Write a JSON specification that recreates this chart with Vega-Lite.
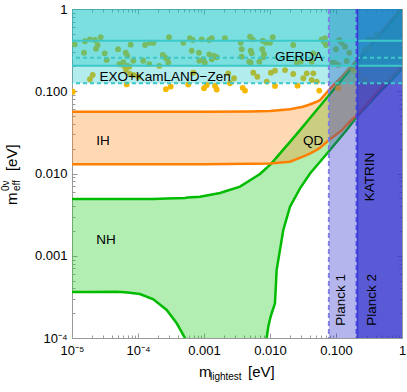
{
  "$schema": "https://vega.github.io/schema/vega-lite/v6.json",
  "width": 330,
  "height": 329,
  "autosize": {"type": "none"},
  "padding": {"left": 72, "top": 9, "right": 5, "bottom": 54},
  "background": "white",
  "config": {
    "view": {"stroke": null},
    "axis": {"grid": false, "title": null, "domainColor": "#999999", "tickColor": "#999999", "labelFont": "Liberation Sans", "labelFontSize": 13, "labelColor": "black", "zindex": 1, "labelOverlap": false, "labelBound": false},
    "text": {"font": "Liberation Sans", "color": "black"}
  },
  "resolve": {"axis": {"x": "independent", "y": "independent"}},
  "datasets": {
    "nh": [
      {"m": 0.00001, "lo": 0.000362, "hi": 0.0049},
      {"m": 0.00002, "lo": 0.000363, "hi": 0.0049},
      {"m": 0.0000475, "lo": 0.000365, "hi": 0.0049},
      {"m": 0.00007, "lo": 0.000357, "hi": 0.0049},
      {"m": 0.000107, "lo": 0.000343, "hi": 0.0049},
      {"m": 0.000171, "lo": 0.000295, "hi": 0.0049},
      {"m": 0.000272, "lo": 0.000219, "hi": 0.00495},
      {"m": 0.000386, "lo": 0.000151, "hi": 0.005},
      {"m": 0.000515, "lo": 0.0001, "hi": 0.00505},
      {"m": 0.00056, "lo": 0.000001, "hi": 0.0051},
      {"m": 0.000869, "lo": 0.000001, "hi": 0.00522},
      {"m": 0.00175, "lo": 0.000001, "hi": 0.00579},
      {"m": 0.00351, "lo": 0.000001, "hi": 0.00692},
      {"m": 0.0055, "lo": 0.000001, "hi": 0.0087},
      {"m": 0.00705, "lo": 0.000001, "hi": 0.00986},
      {"m": 0.0087, "lo": 0.000001, "hi": 0.0115},
      {"m": 0.0089, "lo": 0.0001, "hi": 0.0117},
      {"m": 0.00942, "lo": 0.000137, "hi": 0.0122},
      {"m": 0.01, "lo": 0.00017, "hi": 0.0127},
      {"m": 0.0106, "lo": 0.0002, "hi": 0.0134},
      {"m": 0.0119, "lo": 0.000264, "hi": 0.0149},
      {"m": 0.0126, "lo": 0.00067, "hi": 0.0157},
      {"m": 0.0159, "lo": 0.00206, "hi": 0.0195},
      {"m": 0.0201, "lo": 0.00395, "hi": 0.0242},
      {"m": 0.0285, "lo": 0.00661, "hi": 0.0337},
      {"m": 0.0404, "lo": 0.01, "hi": 0.0472},
      {"m": 0.0573, "lo": 0.0139, "hi": 0.0662},
      {"m": 0.081, "lo": 0.0193, "hi": 0.0925},
      {"m": 0.145, "lo": 0.0338, "hi": 0.162},
      {"m": 0.218, "lo": 0.0514, "hi": 0.238},
      {"m": 0.5, "lo": 0.105, "hi": 0.521},
      {"m": 1, "lo": 0.185, "hi": 1.0}
    ],
    "ih": [
      {"m": 0.00001, "lo": 0.013, "hi": 0.0564},
      {"m": 0.0001, "lo": 0.013, "hi": 0.0564},
      {"m": 0.001, "lo": 0.013, "hi": 0.0565},
      {"m": 0.005, "lo": 0.0131, "hi": 0.0568},
      {"m": 0.01, "lo": 0.0132, "hi": 0.0575},
      {"m": 0.02, "lo": 0.0139, "hi": 0.0605},
      {"m": 0.0316, "lo": 0.016, "hi": 0.0649},
      {"m": 0.04, "lo": 0.0175, "hi": 0.069},
      {"m": 0.051, "lo": 0.0193, "hi": 0.0745},
      {"m": 0.0573, "lo": 0.0205, "hi": 0.0783},
      {"m": 0.081, "lo": 0.0261, "hi": 0.107},
      {"m": 0.12, "lo": 0.033, "hi": 0.148},
      {"m": 0.163, "lo": 0.043, "hi": 0.195},
      {"m": 0.218, "lo": 0.053, "hi": 0.25},
      {"m": 0.5, "lo": 0.115, "hi": 0.54},
      {"m": 1, "lo": 0.2, "hi": 1.05}
    ],
    "dots": [
      {"m": 0.000011, "e": 0.372}, {"m": 0.0000157, "e": 0.405}, {"m": 0.0000187, "e": 0.428}, {"m": 0.0000223, "e": 0.42},
      {"m": 0.0000272, "e": 0.453}, {"m": 0.0000245, "e": 0.365}, {"m": 0.0000231, "e": 0.329}, {"m": 0.0000152, "e": 0.294},
      {"m": 0.0000313, "e": 0.289}, {"m": 0.0000498, "e": 0.324}, {"m": 0.0000775, "e": 0.368}, {"m": 0.000128, "e": 0.365},
      {"m": 0.000152, "e": 0.389}, {"m": 0.0000652, "e": 0.294}, {"m": 0.0000689, "e": 0.268}, {"m": 0.0000335, "e": 0.24},
      {"m": 0.0000521, "e": 0.213}, {"m": 0.0000599, "e": 0.225}, {"m": 0.0000614, "e": 0.203}, {"m": 0.0000689, "e": 0.203},
      {"m": 0.0000658, "e": 0.181}, {"m": 0.0000738, "e": 0.199}, {"m": 0.0000849, "e": 0.235}, {"m": 0.00012, "e": 0.235},
      {"m": 0.000148, "e": 0.214}, {"m": 0.0000206, "e": 0.158}, {"m": 0.0000187, "e": 0.14}, {"m": 0.0000757, "e": 0.162},
      {"m": 0.0000849, "e": 0.158}, {"m": 0.000101, "e": 0.15}, {"m": 0.000295, "e": 0.453}, {"m": 0.000486, "e": 0.389},
      {"m": 0.000614, "e": 0.441}, {"m": 0.000674, "e": 0.42}, {"m": 0.000923, "e": 0.428}, {"m": 0.0012, "e": 0.42},
      {"m": 0.00131, "e": 0.441}, {"m": 0.00208, "e": 0.441}, {"m": 0.000171, "e": 0.389}, {"m": 0.000651, "e": 0.311},
      {"m": 0.00084, "e": 0.294}, {"m": 0.0012, "e": 0.281}, {"m": 0.00142, "e": 0.268}, {"m": 0.00156, "e": 0.259},
      {"m": 0.000237, "e": 0.276}, {"m": 0.000256, "e": 0.259}, {"m": 0.000278, "e": 0.245}, {"m": 0.000288, "e": 0.222},
      {"m": 0.000849, "e": 0.235}, {"m": 0.000976, "e": 0.245}, {"m": 0.00103, "e": 0.222}, {"m": 0.00131, "e": 0.245},
      {"m": 0.00021, "e": 0.203}, {"m": 0.000689, "e": 0.168}, {"m": 0.00233, "e": 0.165}, {"m": 0.00248, "e": 0.125},
      {"m": 0.00498, "e": 0.461}, {"m": 0.00547, "e": 0.428}, {"m": 0.00775, "e": 0.412}, {"m": 0.00869, "e": 0.389},
      {"m": 0.01, "e": 0.389}, {"m": 0.011, "e": 0.453}, {"m": 0.0225, "e": 0.365}, {"m": 0.0036, "e": 0.389},
      {"m": 0.00372, "e": 0.324}, {"m": 0.0051, "e": 0.311}, {"m": 0.00528, "e": 0.289}, {"m": 0.00764, "e": 0.324},
      {"m": 0.00372, "e": 0.263}, {"m": 0.00485, "e": 0.229}, {"m": 0.0051, "e": 0.222}, {"m": 0.00689, "e": 0.229},
      {"m": 0.00791, "e": 0.259}, {"m": 0.00811, "e": 0.284}, {"m": 0.00558, "e": 0.168}, {"m": 0.00643, "e": 0.15},
      {"m": 0.0103, "e": 0.168}, {"m": 0.0119, "e": 0.178}, {"m": 0.0225, "e": 0.162}, {"m": 0.036, "e": 0.165},
      {"m": 0.032, "e": 0.144}, {"m": 0.0428, "e": 0.137}, {"m": 0.00891, "e": 0.131}, {"m": 0.00285, "e": 0.144},
      {"m": 0.0254, "e": 0.222}, {"m": 0.0292, "e": 0.229}, {"m": 0.0428, "e": 0.229}, {"m": 0.0453, "e": 0.289},
      {"m": 0.0607, "e": 0.428}, {"m": 0.0681, "e": 0.441}, {"m": 0.0658, "e": 0.4}, {"m": 0.0705, "e": 0.365},
      {"m": 0.112, "e": 0.42}, {"m": 0.122, "e": 0.389}, {"m": 0.1, "e": 0.324}, {"m": 0.137, "e": 0.348},
      {"m": 0.159, "e": 0.294}, {"m": 0.0891, "e": 0.222}, {"m": 0.0966, "e": 0.219}, {"m": 0.108, "e": 0.209},
      {"m": 0.145, "e": 0.233}, {"m": 0.308, "e": 0.428}, {"m": 0.347, "e": 0.428}, {"m": 0.404, "e": 0.42},
      {"m": 0.275, "e": 0.318}, {"m": 0.312, "e": 0.338}, {"m": 0.275, "e": 0.137}, {"m": 0.0169, "e": 0.181},
      {"m": 0.0453, "e": 0.165}, {"m": 0.0511, "e": 0.131}, {"m": 0.181, "e": 0.181}, {"m": 0.216, "e": 0.162},
      {"m": 0.414, "e": 0.483},
      {"m": 0.0000103, "e": 0.0988}, {"m": 0.0000674, "e": 0.121}, {"m": 0.000265, "e": 0.106}, {"m": 0.000313, "e": 0.114},
      {"m": 0.000578, "e": 0.121}, {"m": 0.001, "e": 0.109}, {"m": 0.0011, "e": 0.119}, {"m": 0.00147, "e": 0.116},
      {"m": 0.00156, "e": 0.105}, {"m": 0.00386, "e": 0.11}, {"m": 0.00418, "e": 0.102}, {"m": 0.0119, "e": 0.116},
      {"m": 0.0261, "e": 0.117}, {"m": 0.0558, "e": 0.102}, {"m": 0.108, "e": 0.109}
    ],
    "labels": [
      {"t": "GERDA", "m": 0.0275, "e": 0.261},
      {"t": "EXO+KamLAND\u2212Zen", "m": 0.000257, "e": 0.149},
      {"t": "IH", "m": 0.0000295, "e": 0.0248},
      {"t": "NH", "m": 0.0000327, "e": 0.00155},
      {"t": "QD", "m": 0.0449, "e": 0.0248}
    ],
    "vlabels": [
      {"t": "KATRIN", "m": 0.327, "e": 0.00906},
      {"t": "Planck 1", "m": 0.119, "e": 0.00029},
      {"t": "Planck 2", "m": 0.351, "e": 0.00029}
    ]
  },
  "layer": [
    {
      "data": {"name": "nh"},
      "mark": {"type": "area", "color": "#22cc22", "opacity": 0.35, "clip": true},
      "encoding": {
        "x": {"field": "m", "type": "quantitative", "scale": {"type": "log", "domain": [0.00001, 1], "nice": false},
          "axis": {"orient": "bottom", "values": [0.00001, 0.0001, 0.001, 0.01, 0.1, 1], "tickSize": -5, "labelPadding": 11, "labelFlush": false,
            "labelExpr": "datum.value < 5e-5 ? '10\u207b\u2075' : datum.value < 5e-4 ? '10\u207b\u2074' : datum.value < 5e-3 ? '0.001' : datum.value < 0.05 ? '0.010' : datum.value < 0.5 ? '0.100' : '1'"}},
        "y": {"field": "lo", "type": "quantitative", "scale": {"type": "log", "domain": [0.0001, 1], "nice": false},
          "axis": {"orient": "left", "values": [0.0001, 0.001, 0.01, 0.1, 1], "tickSize": -5, "labelPadding": 10,
            "labelExpr": "datum.value < 5e-4 ? '10\u207b\u2074' : datum.value < 5e-3 ? '0.001' : datum.value < 0.05 ? '0.010' : datum.value < 0.5 ? '0.100' : '1'"}},
        "y2": {"field": "hi"}
      }
    },
    {
      "data": {"name": "ih"},
      "mark": {"type": "area", "color": "#ff8c1a", "opacity": 0.33, "clip": true},
      "encoding": {
        "x": {"field": "m", "type": "quantitative",
          "axis": {"orient": "bottom", "labels": false, "domain": false, "tickSize": -3,
            "values": [0.00002, 0.00003, 0.00004, 0.00005, 0.00006, 0.00007, 0.00008, 0.00009, 0.0002, 0.0003, 0.0004, 0.0005, 0.0006, 0.0007, 0.0008, 0.0009, 0.002, 0.003, 0.004, 0.005, 0.006, 0.007, 0.008, 0.009, 0.02, 0.03, 0.04, 0.05, 0.06, 0.07, 0.08, 0.09, 0.2, 0.3, 0.4, 0.5, 0.6, 0.7, 0.8, 0.9]}},
        "y": {"field": "lo", "type": "quantitative",
          "axis": {"orient": "left", "labels": false, "domain": false, "tickSize": -3,
            "values": [0.0002, 0.0003, 0.0004, 0.0005, 0.0006, 0.0007, 0.0008, 0.0009, 0.002, 0.003, 0.004, 0.005, 0.006, 0.007, 0.008, 0.009, 0.02, 0.03, 0.04, 0.05, 0.06, 0.07, 0.08, 0.09, 0.2, 0.3, 0.4, 0.5, 0.6, 0.7, 0.8, 0.9]}},
        "y2": {"field": "hi"}
      }
    },
    {
      "data": {"name": "nh"},
      "mark": {"type": "line", "color": "#00bb00", "strokeWidth": 2.5, "clip": true},
      "encoding": {"x": {"field": "m", "type": "quantitative", "axis": null}, "y": {"field": "lo", "type": "quantitative", "axis": null}}
    },
    {
      "data": {"name": "nh"},
      "mark": {"type": "line", "color": "#00bb00", "strokeWidth": 2.5, "clip": true},
      "encoding": {
        "x": {"field": "m", "type": "quantitative",
          "axis": {"orient": "top", "labels": false, "domain": false, "tickSize": -3,
            "values": [0.00002, 0.00003, 0.00004, 0.00005, 0.00006, 0.00007, 0.00008, 0.00009, 0.0002, 0.0003, 0.0004, 0.0005, 0.0006, 0.0007, 0.0008, 0.0009, 0.002, 0.003, 0.004, 0.005, 0.006, 0.007, 0.008, 0.009, 0.02, 0.03, 0.04, 0.05, 0.06, 0.07, 0.08, 0.09, 0.2, 0.3, 0.4, 0.5, 0.6, 0.7, 0.8, 0.9]}},
        "y": {"field": "hi", "type": "quantitative",
          "axis": {"orient": "right", "labels": false, "domain": false, "tickSize": -3,
            "values": [0.0002, 0.0003, 0.0004, 0.0005, 0.0006, 0.0007, 0.0008, 0.0009, 0.002, 0.003, 0.004, 0.005, 0.006, 0.007, 0.008, 0.009, 0.02, 0.03, 0.04, 0.05, 0.06, 0.07, 0.08, 0.09, 0.2, 0.3, 0.4, 0.5, 0.6, 0.7, 0.8, 0.9]}}
      }
    },
    {
      "data": {"name": "ih"},
      "mark": {"type": "line", "color": "#ff7f00", "strokeWidth": 2.5, "clip": true},
      "encoding": {"x": {"field": "m", "type": "quantitative", "axis": null}, "y": {"field": "lo", "type": "quantitative", "axis": null}}
    },
    {
      "data": {"name": "ih"},
      "mark": {"type": "line", "color": "#ff7f00", "strokeWidth": 2.5, "clip": true},
      "encoding": {"x": {"field": "m", "type": "quantitative", "axis": null}, "y": {"field": "hi", "type": "quantitative", "axis": null}}
    },
    {
      "data": {"name": "dots"},
      "mark": {"type": "circle", "color": "#f5b800", "opacity": 1, "size": 34, "clip": true},
      "encoding": {
        "x": {"field": "m", "type": "quantitative",
          "axis": {"orient": "top", "labels": false, "tickSize": -5, "values": [0.00001, 0.0001, 0.001, 0.01, 0.1, 1]}},
        "y": {"field": "e", "type": "quantitative",
          "axis": {"orient": "right", "labels": false, "tickSize": -5, "values": [0.0001, 0.001, 0.01, 0.1, 1]}}
      }
    },
    {
      "data": {"values": [{"lo": 0.078}]},
      "mark": {"type": "rect", "color": "#3333cc", "opacity": 0.36, "clip": true},
      "encoding": {"x": {"field": "lo", "type": "quantitative", "axis": null}, "x2": {"datum": 1}}
    },
    {
      "data": {"values": [{"lo": 0.205}]},
      "mark": {"type": "rect", "color": "#3333cc", "opacity": 0.7, "clip": true},
      "encoding": {"x": {"field": "lo", "type": "quantitative", "axis": null}, "x2": {"datum": 1}}
    },
    {
      "data": {"values": [{"lo": 0.125}, {"lo": 0.204}]},
      "mark": {"type": "rect", "color": "#00c0c0", "opacity": 0.3, "clip": true},
      "encoding": {"y": {"field": "lo", "type": "quantitative", "axis": null}, "y2": {"datum": 1}}
    },
    {
      "data": {"values": [{"v": 0.41}, {"v": 0.204}]},
      "mark": {"type": "rule", "color": "#3cc8c8", "strokeWidth": 2},
      "encoding": {"y": {"field": "v", "type": "quantitative", "axis": null}}
    },
    {
      "data": {"values": [{"v": 0.255}, {"v": 0.125}]},
      "mark": {"type": "rule", "color": "#3cc8c8", "strokeWidth": 2, "strokeDash": [4, 3]},
      "encoding": {"y": {"field": "v", "type": "quantitative", "axis": null}}
    },
    {
      "data": {"values": [{"v": 0.078}]},
      "mark": {"type": "rule", "color": "#7f7fe6", "strokeWidth": 2, "strokeDash": [5, 3]},
      "encoding": {"x": {"field": "v", "type": "quantitative", "axis": null}}
    },
    {
      "data": {"values": [{"v": 0.205}]},
      "mark": {"type": "rule", "color": "#4a4ae0", "strokeWidth": 2, "strokeDash": [5, 3]},
      "encoding": {"x": {"field": "v", "type": "quantitative", "axis": null}}
    },
    {
      "data": {"values": [{"v": 0.213}]},
      "mark": {"type": "rule", "color": "#3a3ad8", "strokeWidth": 1.2},
      "encoding": {"x": {"field": "v", "type": "quantitative", "axis": null}}
    },
    {
      "data": {"name": "labels"},
      "mark": {"type": "text", "fontSize": 13.5, "align": "center", "baseline": "middle"},
      "encoding": {
        "x": {"field": "m", "type": "quantitative", "axis": null},
        "y": {"field": "e", "type": "quantitative", "axis": null},
        "text": {"field": "t"}
      }
    },
    {
      "data": {"name": "vlabels"},
      "mark": {"type": "text", "fontSize": 13.5, "align": "center", "baseline": "middle", "angle": 270},
      "encoding": {
        "x": {"field": "m", "type": "quantitative", "axis": null},
        "y": {"field": "e", "type": "quantitative", "axis": null},
        "text": {"field": "t"}
      }
    },
    {
      "data": {"values": [{"t": "m"}]},
      "mark": {"type": "text", "fontSize": 15, "align": "left", "baseline": "alphabetic"},
      "encoding": {"x": {"datum": 0.00084, "type": "quantitative", "axis": null}, "y": {"datum": 0.0000336, "type": "quantitative", "axis": null}, "text": {"field": "t"}}
    },
    {
      "data": {"values": [{"t": "lightest"}]},
      "mark": {"type": "text", "fontSize": 10, "align": "left", "baseline": "alphabetic"},
      "encoding": {"x": {"datum": 0.00123, "type": "quantitative", "axis": null}, "y": {"datum": 0.0000308, "type": "quantitative", "axis": null}, "text": {"field": "t"}}
    },
    {
      "data": {"values": [{"t": "[eV]"}]},
      "mark": {"type": "text", "fontSize": 15, "align": "left", "baseline": "alphabetic"},
      "encoding": {"x": {"datum": 0.00464, "type": "quantitative", "axis": null}, "y": {"datum": 0.0000336, "type": "quantitative", "axis": null}, "text": {"field": "t"}}
    },
    {
      "data": {"values": [{"t": "m"}]},
      "mark": {"type": "text", "fontSize": 15, "align": "left", "baseline": "alphabetic", "angle": 270},
      "encoding": {"x": {"datum": 0.00000147, "type": "quantitative", "axis": null}, "y": {"datum": 0.00414, "type": "quantitative", "axis": null}, "text": {"field": "t"}}
    },
    {
      "data": {"values": [{"t": "eff"}]},
      "mark": {"type": "text", "fontSize": 10, "align": "left", "baseline": "alphabetic", "angle": 270},
      "encoding": {"x": {"datum": 0.00000163, "type": "quantitative", "axis": null}, "y": {"datum": 0.00612, "type": "quantitative", "axis": null}, "text": {"field": "t"}}
    },
    {
      "data": {"values": [{"t": "0\u03bd"}]},
      "mark": {"type": "text", "fontSize": 10, "align": "left", "baseline": "alphabetic", "angle": 270},
      "encoding": {"x": {"datum": 0.00000111, "type": "quantitative", "axis": null}, "y": {"datum": 0.00612, "type": "quantitative", "axis": null}, "text": {"field": "t"}}
    },
    {
      "data": {"values": [{"t": "[eV]"}]},
      "mark": {"type": "text", "fontSize": 15, "align": "left", "baseline": "alphabetic", "angle": 270},
      "encoding": {"x": {"datum": 0.00000147, "type": "quantitative", "axis": null}, "y": {"datum": 0.0107, "type": "quantitative", "axis": null}, "text": {"field": "t"}}
    }
  ]
}
